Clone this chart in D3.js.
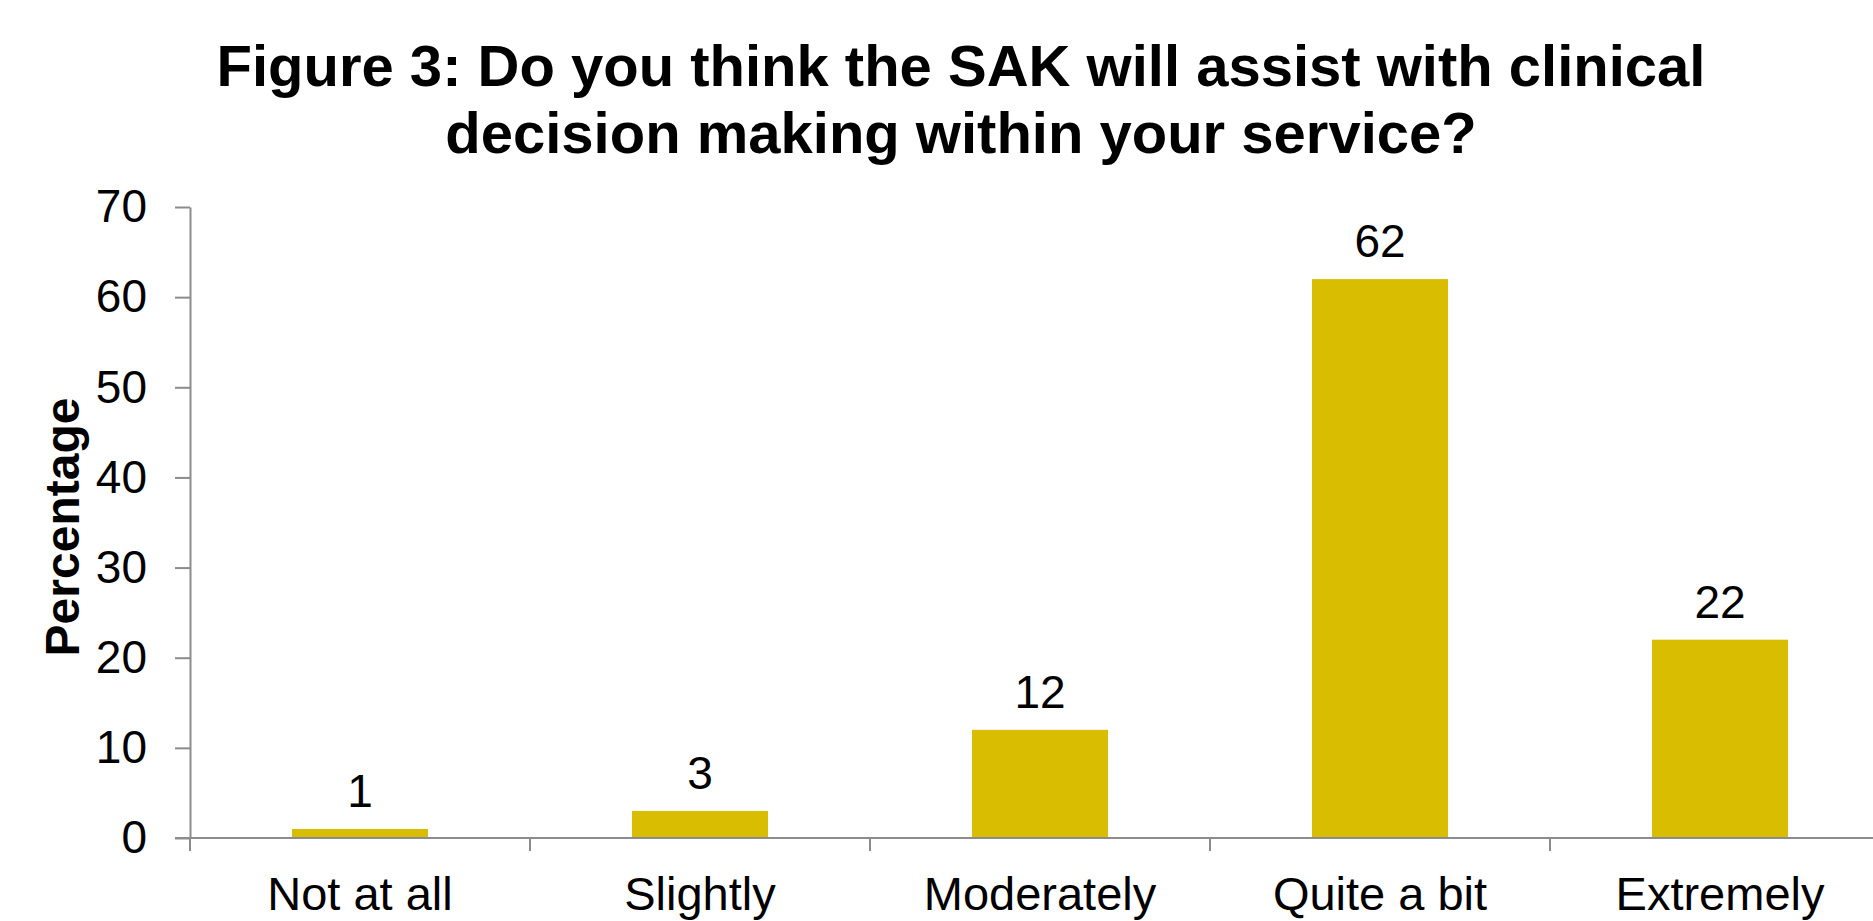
<!DOCTYPE html>
<html>
<head>
<meta charset="utf-8">
<script src="https://cdn.jsdelivr.net/npm/d3@7"></script>
<style>
  body { margin: 0; background: #fff; }
  svg text { font-family: "Liberation Sans", Arial, sans-serif; fill: #000; }
  .axis path, .axis line { stroke: #8c8c8c; stroke-width: 2; }
</style>
</head>
<body>
<div id="chart"></div>
<script>
var categories = ["Not at all", "Slightly", "Moderately", "Quite a bit", "Extremely"];
var values = [1, 3, 12, 62, 22];
var y_ticks = [0, 10, 20, 30, 40, 50, 60, 70];
var title_lines = ["Figure 3: Do you think the SAK will assist with clinical",
  "decision making within your service?"];
var y_title = "Percentage";

var width = 1873, height = 921,
  bar_color = "#d9bd00";

var svg = d3.select("#chart").append("svg")
    .attr("width", width)
    .attr("height", height);

// plot area; the last band runs off the right edge like the original
var x = d3.scaleBand()
    .domain(categories)
    .range([190, 1890])
    .paddingInner(0.6)
    .paddingOuter(0.3);

var y = d3.scaleLinear()
    .domain([0, 70])
    .range([838, 207]);

// title
svg.selectAll(".title")
    .data(title_lines)
  .enter().append("text")
    .attr("class", "title")
    .attr("x", 961)
    .attr("y", function(d, i){ return 86 + i * 67; })
    .attr("text-anchor", "middle")
    .style("font-size", "58px")
    .style("font-weight", "bold")
    .text(function(d){ return d; });

// y axis
var y_axis = svg.append("g")
    .attr("class", "axis y-axis")
    .attr("transform", "translate(190,0)")
    .call(d3.axisLeft(y).tickValues(y_ticks).tickSize(15).tickPadding(28).tickSizeOuter(0));

y_axis.selectAll("text")
    .style("font-size", "46px");

svg.append("text")
    .attr("transform", "translate(79,527) rotate(-90)")
    .attr("text-anchor", "middle")
    .style("font-size", "48px")
    .style("font-weight", "bold")
    .text(y_title);

// bars
svg.selectAll(".bar")
    .data(values)
  .enter().append("rect")
    .attr("class", "bar")
    .attr("x", function(d, i){ return x(categories[i]); })
    .attr("y", function(d){ return y(d); })
    .attr("width", x.bandwidth())
    .attr("height", function(d){ return y(0) - y(d); })
    .attr("fill", bar_color);

// x axis line + ticks between the categories
var x_axis = svg.append("g")
    .attr("class", "axis x-axis");

x_axis.append("line")
    .attr("x1", 175)
    .attr("x2", width)
    .attr("y1", y(0))
    .attr("y2", y(0));

var pad = x.step() * x.paddingOuter();

x_axis.selectAll(".cat-tick")
    .data(categories)
  .enter().append("line")
    .attr("class", "cat-tick")
    .attr("x1", function(d){ return x(d) - pad; })
    .attr("x2", function(d){ return x(d) - pad; })
    .attr("y1", y(0))
    .attr("y2", y(0) + 13);

x_axis.selectAll(".cat-label")
    .data(categories)
  .enter().append("text")
    .attr("class", "cat-label")
    .attr("x", function(d){ return x(d) + x.bandwidth() / 2; })
    .attr("y", 910)
    .attr("text-anchor", "middle")
    .style("font-size", "47px")
    .text(function(d){ return d; });

// value labels
svg.selectAll(".value-label")
    .data(values)
  .enter().append("text")
    .attr("class", "value-label")
    .attr("x", function(d, i){ return x(categories[i]) + x.bandwidth() / 2; })
    .attr("y", function(d){ return y(d) - 22; })
    .attr("text-anchor", "middle")
    .style("font-size", "46px")
    .text(function(d){ return d; });
</script>
</body>
</html>
